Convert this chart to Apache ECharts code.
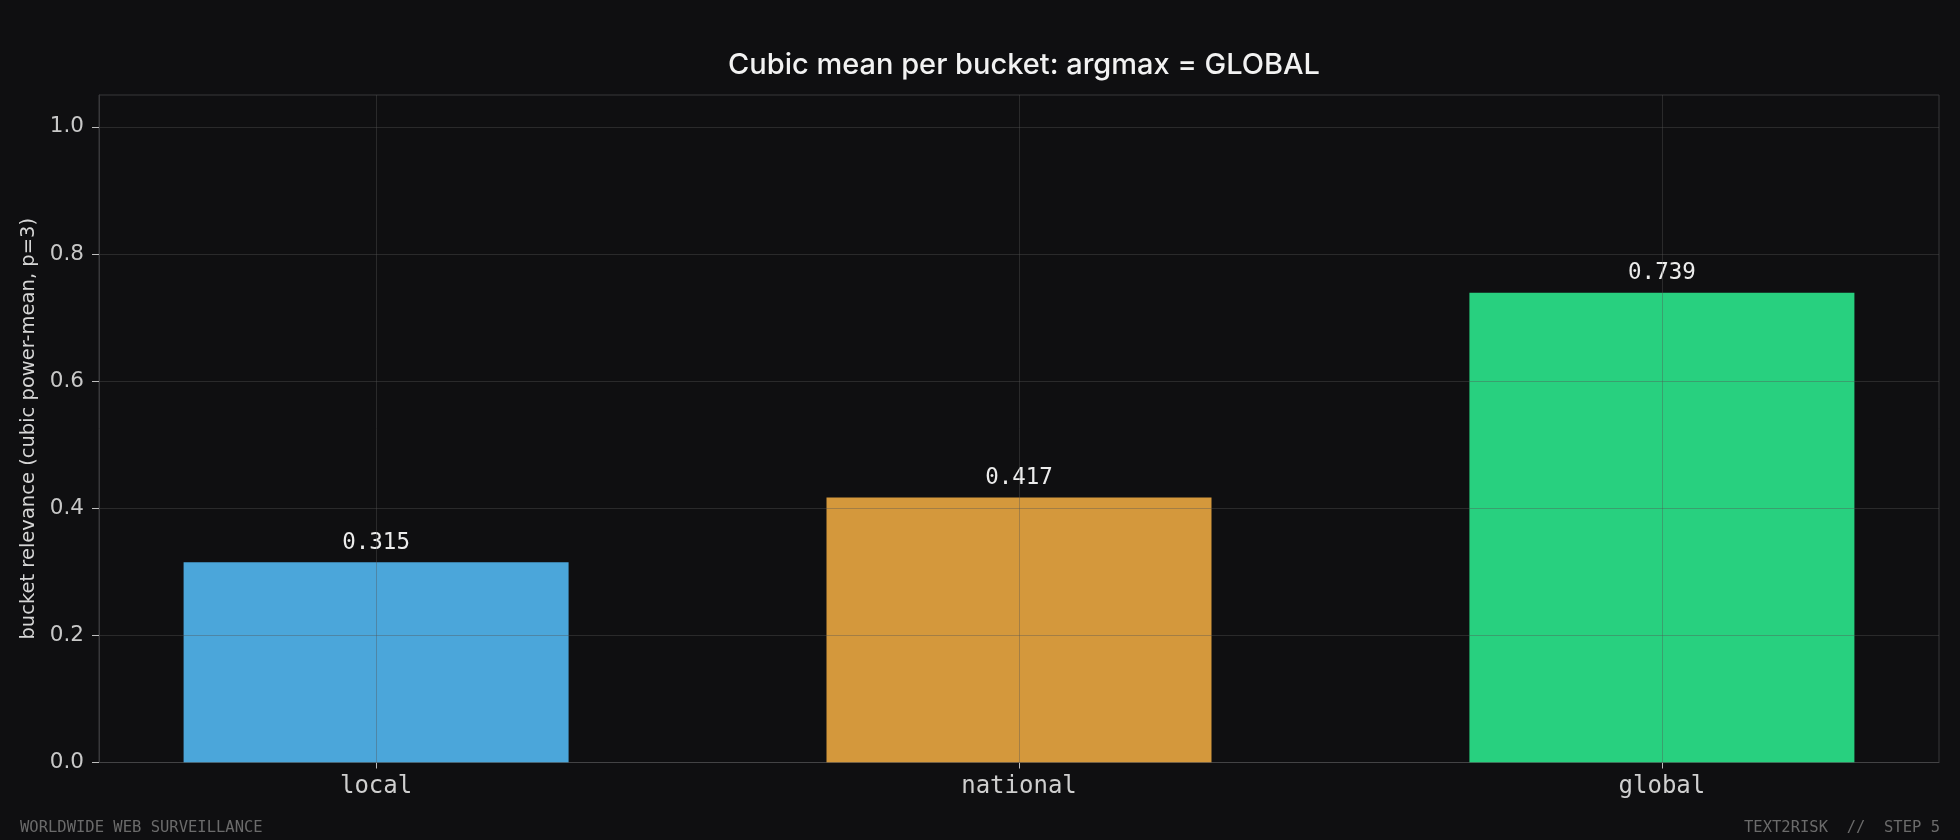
<!DOCTYPE html>
<html>
<head>
<meta charset="utf-8">
<script src="https://cdn.jsdelivr.net/npm/echarts@6/dist/echarts.min.js"></script>
<style>
  html, body { margin: 0; padding: 0; background: #0f0f11; }
  #chart { width: 1960px; height: 840px; }
</style>
</head>
<body>
<div id="chart"></div>
<script>
// bucket names and their cubic power-means
const buckets = ['local', 'national', 'global'];
const relevance = [0.315, 0.417, 0.739];
const barColors = ['#4ba6da', '#d4983c', '#28d07f'];
const yTicks = [0, 0.2, 0.4, 0.6, 0.8, 1.0];

const gridColor = 'rgba(85,85,85,0.39)';
const frameColor = '#38383b';

const chart = echarts.init(document.getElementById('chart'));

const option = {
  backgroundColor: '#0f0f11',
  animation: false,
  title: {
    text: 'Cubic mean per bucket: argmax = GLOBAL',
    left: 1019,
    top: 46,
    textAlign: 'center',
    textStyle: {
      fontFamily: 'Inter',
      fontSize: 29,
      fontWeight: 500,
      color: '#f2f2f2'
    }
  },
  grid: {
    left: 99,
    right: 21,
    top: 95,
    bottom: 77.5,
    show: true,
    borderColor: frameColor,
    borderWidth: 1,
    backgroundColor: 'transparent'
  },
  xAxis: {
    type: 'value',
    min: -0.431,
    max: 2.431,
    splitLine: { show: false },
    axisLine: { show: true, onZero: false, lineStyle: { color: frameColor } },
    axisTick: {
      show: true,
      customValues: [0, 1, 2],
      length: 6,
      lineStyle: { color: '#bdbdbd' }
    },
    axisLabel: {
      customValues: [0, 1, 2],
      formatter: v => buckets[Math.round(v)],
      margin: 12,
      fontFamily: 'DejaVu Sans Mono',
      fontSize: 24,
      color: '#cfcfcf'
    }
  },
  yAxis: {
    type: 'value',
    min: 0,
    max: 1.05,
    z: 3,
    axisLabel: {
      customValues: yTicks,
      formatter: v => v.toFixed(1),
      margin: 15,
      fontFamily: 'DejaVu Sans',
      fontSize: 21.5,
      color: '#c8c8c8'
    },
    axisTick: {
      show: true,
      customValues: yTicks,
      length: 7,
      lineStyle: { color: '#bdbdbd' }
    },
    axisLine: { show: true, onZero: false, lineStyle: { color: frameColor } },
    splitLine: {
      show: true,
      customValues: yTicks,
      lineStyle: { color: gridColor, width: 1 }
    },
    name: 'bucket relevance (cubic power-mean, p=3)',
    nameLocation: 'middle',
    nameGap: 60,
    nameTextStyle: {
      fontFamily: 'DejaVu Sans',
      fontSize: 19.5,
      color: '#d6d6d6'
    }
  },
  series: [
    {
      type: 'bar',
      barWidth: 385,
      data: relevance.map((v, i) => ({
        value: [i, v],
        itemStyle: { color: barColors[i] }
      })),
      label: {
        show: true,
        position: 'top',
        distance: 8,
        formatter: p => p.value[1].toFixed(3),
        fontFamily: 'DejaVu Sans Mono',
        fontSize: 22.5,
        color: '#ececec'
      },
      markLine: {
        silent: true,
        symbol: 'none',
        label: { show: false },
        lineStyle: { color: gridColor, width: 1, type: 'solid' },
        data: buckets.map((b, i) => ({ xAxis: i }))
      }
    }
  ],
  graphic: [
    {
      type: 'text',
      left: 20,
      top: 820,
      style: {
        text: 'WORLDWIDE WEB SURVEILLANCE',
        fontFamily: 'DejaVu Sans Mono',
        fontSize: 15.5,
        fill: '#6b6b6b'
      }
    },
    {
      type: 'text',
      right: 20,
      top: 820,
      style: {
        text: 'TEXT2RISK  //  STEP 5',
        fontFamily: 'DejaVu Sans Mono',
        fontSize: 15.5,
        fill: '#6b6b6b'
      }
    }
  ]
};

chart.setOption(option);
</script>
</body>
</html>
